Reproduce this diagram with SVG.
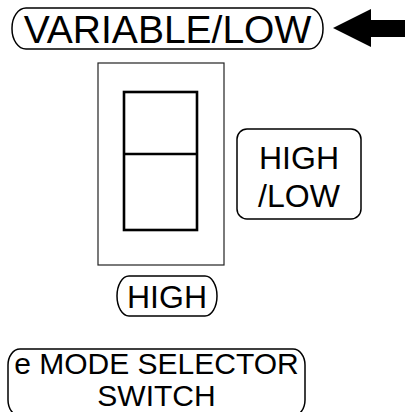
<svg xmlns="http://www.w3.org/2000/svg" width="405" height="412" viewBox="0 0 405 412">
<style>
.lbl{font-family:"Liberation Sans",Arial,sans-serif;fill:#000;text-anchor:middle}
.pill{fill:none;stroke:#000;stroke-width:1.5}
.thin{fill:none;stroke:#222;stroke-width:1.2}
.thick{fill:none;stroke:#000;stroke-width:2.6}
</style>
<rect width="405" height="412" fill="#fff"/>
<g id="variable-low">
<rect class="pill" x="12" y="8" width="311" height="41" rx="14" ry="20"/>
<text class="lbl" x="167.5" y="43" font-size="39">VARIABLE/LOW</text>
</g>
<g id="connectors">
<polygon points="333,28 371,9 371,20 405,20 405,37 371,37 371,47" fill="#000"/>
</g>
<g id="switch">
<rect class="thin" x="98" y="63" width="126" height="202"/>
<rect class="thick" x="124" y="92" width="73" height="138"/>
<line class="thick" x1="124" y1="154" x2="197" y2="154"/>
</g>
<g id="high-low">
<rect class="pill" x="237" y="129" width="124" height="90" rx="10" ry="10"/>
<text class="lbl" x="299" y="169" font-size="32">HIGH</text>
<text class="lbl" x="299" y="207" font-size="32">/LOW</text>
</g>
<g id="high">
<rect class="pill" x="117" y="276" width="100" height="40" rx="12" ry="20"/>
<text class="lbl" x="167" y="308" font-size="32">HIGH</text>
</g>
<g id="mode-selector">
<rect class="pill" x="8" y="349" width="297" height="67" rx="12" ry="16"/>
<text class="lbl" x="156.5" y="374" font-size="30">e MODE SELECTOR</text>
<text class="lbl" x="156.5" y="406" font-size="30">SWITCH</text>
</g>
</svg>
